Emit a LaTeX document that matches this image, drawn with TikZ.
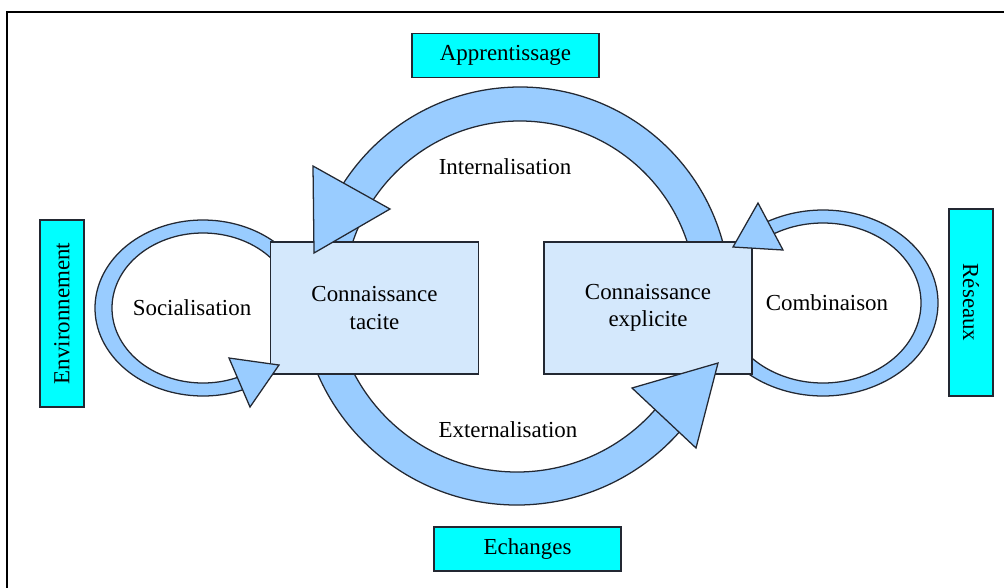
\documentclass[tikz,border=0pt]{standalone}
\usepackage{fontspec}
\setmainfont{Liberation Serif}
\newfontfamily\timesfont{Liberation Serif}
\usetikzlibrary{calc}
\definecolor{bandblue}{RGB}{153,204,255}
\definecolor{boxblue}{RGB}{212,232,252}
\definecolor{factorcyan}{RGB}{0,255,255}
\definecolor{edge}{RGB}{35,40,50}

\begin{document}
\begin{tikzpicture}[x=0.025cm, y=-0.025cm,
    font=\timesfont\fontsize{16.3}{19.5}\selectfont,
    band/.style={fill=bandblue, draw=edge, line width=0.9pt},
    arrowtip/.style={fill=bandblue, draw=edge, line width=0.9pt, line join=miter},
    knowbox/.style={draw=edge, fill=boxblue, line width=0.9pt, minimum width=5.2cm, minimum height=3.3cm, align=center, inner sep=0pt},
    factor/.style={draw=edge, fill=factorcyan, line width=0.9pt, minimum width=4.675cm, minimum height=1.1cm, inner sep=0pt}]
    \useasboundingbox (0,0) rectangle (1004,587);
    \draw[line width=1.4pt] (7,600) -- (7,12) -- (1020,12);

    % bands
    \coordinate (cint) at (520,297);
    \coordinate (cext) at (517,288);
    \coordinate (csoc) at (203,308);
    \coordinate (ccomb) at (823,303);
    \draw[band] (cint) ++(-5:210) arc[start angle=-5, end angle=-175, radius=210] -- ++(-175:-34) arc[start angle=-175, end angle=-5, radius=176] -- cycle;
    \draw[band] (cext) ++(175:217) arc[start angle=175, end angle=40, radius=217] -- ++(40:-33) arc[start angle=40, end angle=175, radius=184] -- cycle;
    \draw[band] (csoc) ++(-30:108 and 88) arc[start angle=-30, end angle=-300, x radius=108, y radius=88] -- ($(csoc)+(-300:91 and 75)$) arc[start angle=-300, end angle=-30, x radius=91, y radius=75] -- cycle;
    \draw[band] (ccomb) ++(150:115 and 93) arc[start angle=150, end angle=-125, x radius=115, y radius=93] -- ($(ccomb)+(-125:98 and 80)$) arc[start angle=-125, end angle=150, x radius=98, y radius=80] -- cycle;

    % boxes
    \node[knowbox] (tacite) at (374.5,308) {Connaissance\\tacite};
    \node[knowbox] (explicite) at (648,308) {Connaissance\\explicite};
    \node[factor] (appr) at (505.5,55.5) {Apprentissage};
    \node[factor] (echg) at (527.5,549) {Echanges};
    \node[factor, rotate=90] (env) at (62,313.5) {Environnement};
    \node[factor, rotate=-90] (res) at (971,302.5) {Réseaux};

    % heads
    \draw[arrowtip] (313,166) -- (390,209) -- (314,253) -- cycle;
    \draw[arrowtip] (632,388) -- (718,363) -- (696,448) -- cycle;
    \draw[arrowtip] (229,358) -- (279,365) -- (250,407) -- cycle;
    \draw[arrowtip] (758,203) -- (733,247) -- (783,250) -- cycle;

    \node (intl) at (505,167) {Internalisation};
    \node (extl) at (508,430) {Externalisation};
    \node (socl) at (192,308) {Socialisation};
    \node (cmbl) at (827,303) {Combinaison};
\end{tikzpicture}
\end{document}
